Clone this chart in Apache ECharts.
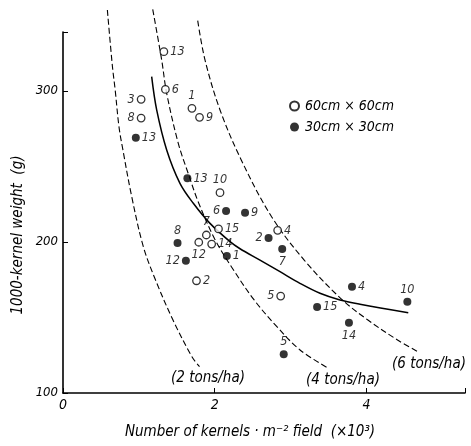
<!DOCTYPE html>
<html>
<head>
<meta charset="utf-8">
<script src="https://cdn.jsdelivr.net/npm/echarts@6/dist/echarts.min.js"></script>
<style>
  html, body { margin: 0; padding: 0; background: #fff; }
  #chart { width: 471px; height: 446px; }
</style>
</head>
<body>
<div id="chart"></div>
<script>
// Plots in the 60cm x 60cm spacing (open circles): kernels per m2 (x10^3), 1000-kernel weight (g)
const wideX = [1.33, 1.35, 1.03, 1.03, 1.70, 1.80, 2.07, 2.05, 1.89, 1.79, 1.96, 1.76, 2.83, 2.87];
const wideY = [326, 301, 294.4, 282, 288.5, 282.5, 232.6, 208.6, 204.6, 199.8, 198.6, 174.3, 207.7, 164.2];
const wideNames = ['13', '6', '3', '8', '1', '9', '10', '15', '7', '12', '14', '2', '4', '5'];
const wideLabelSide = ['right', 'right', 'left', 'left', 'top', 'right', 'top', 'right', 'top', 'bottom', 'right', 'right', 'right', 'left'];

// Plots in the 30cm x 30cm spacing (filled circles)
const denseX = [0.96, 1.64, 2.15, 2.40, 1.51, 1.62, 2.16, 2.71, 2.89, 3.81, 4.54, 3.35, 3.77, 2.91];
const denseY = [269, 242.1, 220.5, 219.4, 199.3, 187.6, 190.7, 202.6, 195.3, 170.4, 160.4, 156.9, 146.5, 125.6];
const denseNames = ['13', '13', '6', '9', '8', '12', '1', '2', '7', '4', '10', '15', '14', '5'];
const denseLabelSide = ['right', 'right', 'left', 'right', 'top', 'left', 'right', 'left', 'bottom', 'right', 'top', 'right', 'bottom', 'top'];

// Equal-yield curves (dashed)
const yield2X = [0.585, 0.652, 0.688, 0.738, 0.79, 0.906, 1.059, 1.22, 1.45, 1.70, 1.80];
const yield2Y = [353.6, 316.0, 300.6, 276.3, 260.9, 230.0, 196.9, 174.8, 148.3, 124.0, 117.4];
const yield4X = [1.183, 1.301, 1.367, 1.52, 1.65, 1.79, 2.00, 2.22, 2.52, 2.82, 3.125, 3.477];
const yield4Y = [354.0, 320.5, 298.4, 265.3, 245.5, 225.6, 202.0, 183.6, 161.6, 143.9, 128.5, 117.0];
const yield6X = [1.776, 1.872, 2.07, 2.35, 2.75, 3.18, 3.66, 4.02, 4.41, 4.68];
const yield6Y = [346.5, 320.5, 287.4, 254.3, 216.7, 188.0, 162.7, 148.3, 135.1, 127.3];

// Fitted relation (solid)
const fitX = [1.169, 1.235, 1.367, 1.542, 1.718, 1.938, 2.202, 2.334, 2.597, 2.861, 3.124, 3.388, 3.652, 3.916, 4.552];
const fitY = [309.4, 287.4, 260.9, 238.8, 225.6, 212.3, 200.2, 195.5, 188.0, 180.3, 172.6, 166.0, 161.6, 158.8, 153.2];

const yieldLabels = ['(2 tons/ha)', '(4 tons/ha)', '(6 tons/ha)'];
const xTicks = [0, 2, 4];
const yTicks = [100, 200, 300];

const FONT = "'Liberation Sans Narrow', 'DejaVu Sans Condensed', 'Liberation Sans', sans-serif";
const zip = (xs, ys) => xs.map((x, i) => [x, ys[i]]);

function pointSeries(name, xs, ys, names, sides, filled) {
  return {
    name: name,
    type: 'scatter',
    symbol: 'circle',
    symbolSize: filled ? 8 : 7.5,
    itemStyle: filled
      ? { color: '#000' }
      : { color: '#fff', borderColor: '#000', borderWidth: 1.3 },
    data: xs.map((x, i) => ({
      value: [x, ys[i]],
      label: { position: sides[i] }
    })),
    label: {
      show: true,
      formatter: p => names[p.dataIndex],
      fontFamily: FONT,
      fontStyle: 'italic',
      fontSize: 12.5,
      color: '#000',
      distance: 2
    },
    z: 5
  };
}

function curveSeries(xs, ys, dashed) {
  return {
    type: 'line',
    data: zip(xs, ys),
    smooth: 0.35,
    symbol: 'none',
    clip: false,
    silent: true,
    lineStyle: {
      color: '#000',
      width: dashed ? 1.1 : 1.5,
      type: dashed ? [6, 3] : 'solid'
    },
    z: 3
  };
}

const chart = echarts.init(document.getElementById('chart'));
chart.setOption({
  animation: false,
  backgroundColor: '#fff',
  grid: { left: 63, right: 6, top: 32, bottom: 53 },
  xAxis: {
    type: 'value',
    min: 0,
    max: 5.3,
    interval: 2,
    axisLine: { lineStyle: { color: '#000', width: 1.6 } },
    axisTick: { inside: true, length: 5, lineStyle: { color: '#000' } },
    splitLine: { show: false },
    axisLabel: {
      color: '#000', fontFamily: FONT, fontStyle: 'italic', fontSize: 14, margin: 5,
      formatter: v => xTicks.includes(v) ? String(v) : ''
    }
  },
  yAxis: {
    type: 'value',
    min: 100,
    max: 339,
    interval: 100,
    axisLine: { lineStyle: { color: '#000', width: 1.6 } },
    axisTick: { inside: true, length: 5, lineStyle: { color: '#000' } },
    splitLine: { show: false },
    axisLabel: {
      color: '#000', fontFamily: FONT, fontStyle: 'italic', fontSize: 13, margin: 5,
      formatter: v => yTicks.includes(v) ? String(v) : ''
    }
  },
  legend: {
    orient: 'vertical',
    left: 284,
    top: 94,
    itemWidth: 9,
    itemHeight: 9,
    itemGap: 7,
    icon: 'circle',
    textStyle: { fontFamily: FONT, fontStyle: 'italic', fontSize: 14, color: '#000', padding: [0, 0, 0, 1] },
    data: ['60cm × 60cm', '30cm × 30cm']
  },
  series: [
    curveSeries(yield2X, yield2Y, true),
    curveSeries(yield4X, yield4Y, true),
    curveSeries(yield6X, yield6Y, true),
    curveSeries(fitX, fitY, false),
    pointSeries('60cm × 60cm', wideX, wideY, wideNames, wideLabelSide, false),
    pointSeries('30cm × 30cm', denseX, denseY, denseNames, denseLabelSide, true)
  ],
  graphic: [
    {
      type: 'text', x: 250, y: 432,
      style: { text: 'Number of kernels · m⁻² field  (×10³)', fontFamily: FONT, fontStyle: 'italic', fontSize: 15, fill: '#000', align: 'center', verticalAlign: 'middle' }
    },
    {
      type: 'text', x: 18, y: 235, rotation: Math.PI / 2,
      style: { text: '1000-kernel weight  (g)', fontFamily: FONT, fontStyle: 'italic', fontSize: 15, fill: '#000', align: 'center', verticalAlign: 'middle' }
    },
    {
      type: 'text', x: 208, y: 378,
      style: { text: yieldLabels[0], fontFamily: FONT, fontStyle: 'italic', fontSize: 15, fill: '#000', align: 'center', verticalAlign: 'middle' }
    },
    {
      type: 'text', x: 343, y: 380,
      style: { text: yieldLabels[1], fontFamily: FONT, fontStyle: 'italic', fontSize: 15, fill: '#000', align: 'center', verticalAlign: 'middle' }
    },
    {
      type: 'text', x: 429, y: 364,
      style: { text: yieldLabels[2], fontFamily: FONT, fontStyle: 'italic', fontSize: 15, fill: '#000', align: 'center', verticalAlign: 'middle' }
    }
  ]
});
</script>
</body>
</html>
